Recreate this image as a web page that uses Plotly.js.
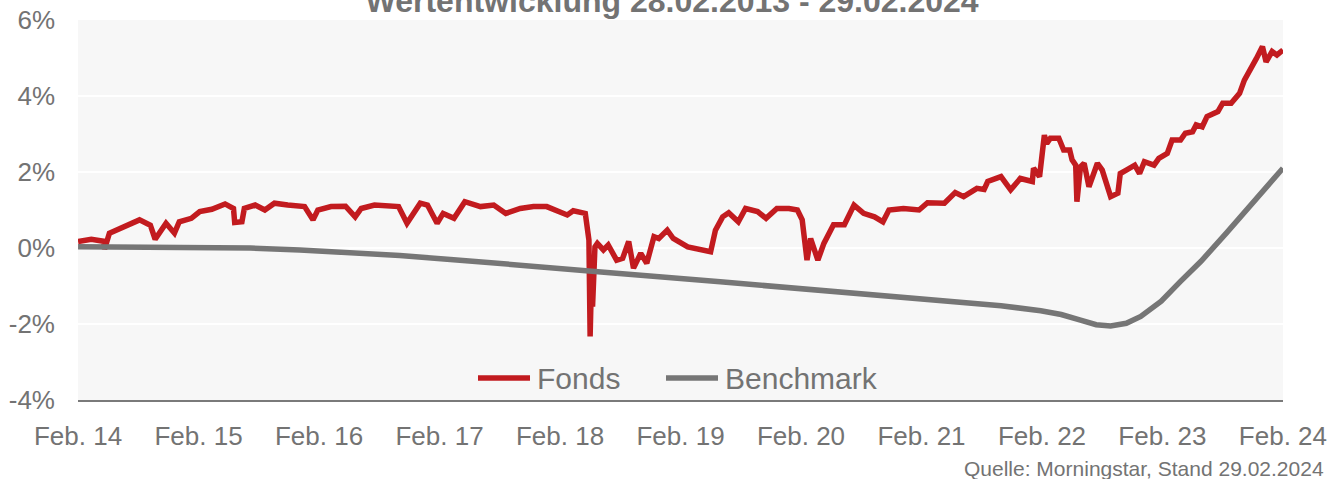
<!DOCTYPE html>
<html>
<head>
<meta charset="utf-8">
<script src="https://cdn.plot.ly/plotly-3.0.1.min.js"></script>
<style>
html,body{margin:0;padding:0;background:#ffffff;}
#chart{width:1327px;height:479px;}
</style>
</head>
<body>
<div id="chart"></div>
<script>
// x values: years since 28.02.2014
var tickYears = [0,1,2,3,4,5,6,7,8,9,10];
var tickLabels = ["Feb. 14","Feb. 15","Feb. 16","Feb. 17","Feb. 18","Feb. 19","Feb. 20","Feb. 21","Feb. 22","Feb. 23","Feb. 24"];
var yTickVals = [-4,-2,0,2,4,6];
var yTickLabels = ["-4%","-2%","0%","2%","4%","6%"];
var seriesNames = ["Fonds","Benchmark"];

var fondsT = [0.00,0.11,0.21,0.22,0.26,0.39,0.51,0.60,0.64,0.73,0.80,0.84,0.94,1.01,1.11,1.22,1.29,1.30,1.36,1.38,1.47,1.55,1.63,1.74,1.88,1.95,1.99,2.10,2.22,2.30,2.35,2.46,2.66,2.73,2.84,2.90,2.98,3.03,3.12,3.21,3.34,3.45,3.55,3.67,3.78,3.89,4.06,4.11,4.21,4.24,4.25,4.26,4.27,4.29,4.31,4.36,4.40,4.47,4.52,4.57,4.61,4.67,4.72,4.78,4.82,4.89,4.94,5.06,5.17,5.25,5.29,5.35,5.40,5.48,5.54,5.64,5.71,5.80,5.90,5.97,6.01,6.05,6.08,6.14,6.19,6.27,6.36,6.44,6.52,6.61,6.68,6.73,6.85,6.98,7.05,7.19,7.28,7.35,7.46,7.52,7.55,7.66,7.74,7.82,7.92,7.93,7.98,8.02,8.04,8.07,8.14,8.18,8.23,8.25,8.28,8.29,8.32,8.35,8.39,8.46,8.50,8.54,8.57,8.63,8.65,8.70,8.77,8.81,8.85,8.93,8.97,9.04,9.08,9.15,9.19,9.25,9.28,9.33,9.37,9.46,9.50,9.57,9.64,9.68,9.72,9.78,9.83,9.86,9.91,9.95,10.00];
var fondsV = [0.17,0.23,0.18,-0.03,0.39,0.56,0.74,0.60,0.23,0.65,0.39,0.69,0.78,0.96,1.02,1.16,1.04,0.67,0.69,1.04,1.13,1.00,1.18,1.13,1.09,0.74,1.00,1.09,1.10,0.82,1.04,1.13,1.09,0.65,1.18,1.13,0.65,0.91,0.78,1.22,1.09,1.13,0.91,1.04,1.09,1.09,0.87,0.98,0.91,0.21,-2.33,-1.00,-1.54,0.03,0.12,-0.05,0.08,-0.32,-0.27,0.17,-0.53,-0.14,-0.40,0.30,0.25,0.47,0.25,0.03,-0.05,-0.10,0.47,0.82,0.93,0.69,1.04,0.96,0.78,1.04,1.04,1.00,0.74,-0.32,0.25,-0.32,0.12,0.61,0.61,1.13,0.91,0.82,0.69,1.00,1.04,1.00,1.19,1.18,1.46,1.35,1.57,1.54,1.75,1.88,1.53,1.83,1.75,2.10,1.88,2.97,2.75,2.89,2.89,2.58,2.58,2.32,2.18,1.22,2.14,2.23,1.61,2.23,2.05,1.61,1.35,1.44,1.96,2.05,2.18,1.96,2.27,2.18,2.36,2.49,2.84,2.84,3.02,3.06,3.24,3.19,3.46,3.59,3.81,3.81,4.07,4.42,4.68,4.99,5.30,4.90,5.17,5.08,5.21];

var benchT = [0,0.60,1.01,1.43,1.84,2.26,2.67,3.09,3.50,3.99,4.34,5.33,6.00,6.41,6.83,7.66,7.99,8.16,8.32,8.45,8.57,8.70,8.82,8.99,9.15,9.32,9.53,9.72,10.00];
var benchV = [0.03,0.03,0.02,0.00,-0.05,-0.12,-0.20,-0.30,-0.40,-0.55,-0.63,-0.89,-1.08,-1.19,-1.30,-1.52,-1.65,-1.75,-1.90,-2.02,-2.05,-1.98,-1.80,-1.40,-0.88,-0.35,0.39,1.10,2.10];

var textColor = "#737373";
var fondsColor = "#c21b1f";
var benchColor = "#767676";
var fontFam = "'Liberation Sans', Arial, sans-serif";

var traces = [
  {x: fondsT, y: fondsV, type: "scatter", mode: "lines", name: seriesNames[0],
   line: {color: fondsColor, width: 5.5}},
  {x: benchT, y: benchV, type: "scatter", mode: "lines", name: seriesNames[1],
   line: {color: benchColor, width: 5.5}}
];

// legend drawn in paper coordinates (plot area 78..1283 x 20..400 px)
function px(x){ return (x - 78) / 1205; }
function py(y){ return (400 - y) / 380; }

var layout = {
  width: 1327, height: 479,
  margin: {l: 78, r: 44, t: 20, b: 79, pad: 0},
  paper_bgcolor: "#ffffff",
  plot_bgcolor: "#f7f7f7",
  font: {family: fontFam, color: textColor, size: 26},
  title: {text: "<b>Wertentwicklung 28.02.2013 - 29.02.2024</b>",
          font: {family: fontFam, size: 32, color: textColor},
          x: 0.5065, xref: "container", xanchor: "center",
          y: 0.998, yref: "container", yanchor: "middle", pad: {t: 0}},
  showlegend: false,
  xaxis: {range: [-0.0005, 10.0005], tickmode: "array", tickvals: tickYears, ticktext: tickLabels,
          showgrid: false, zeroline: false, showline: true, linecolor: "#7a7a7a", linewidth: 2,
          ticks: "", ticklabelstandoff: 12, ticklabeloverflow: "allow",
          tickfont: {size: 26, color: textColor}, fixedrange: true},
  yaxis: {range: [-4, 6], tickmode: "array", tickvals: yTickVals, ticktext: yTickLabels,
          showgrid: true, gridcolor: "#ffffff", gridwidth: 2, zeroline: false, showline: false,
          ticks: "", ticklabelstandoff: 22, tickfont: {size: 26, color: textColor}, fixedrange: true},
  shapes: [
    {type: "line", xref: "paper", yref: "paper", x0: px(478), x1: px(530), y0: py(378), y1: py(378),
     line: {color: fondsColor, width: 5.5}},
    {type: "line", xref: "paper", yref: "paper", x0: px(666), x1: px(718), y0: py(378), y1: py(378),
     line: {color: benchColor, width: 5.5}}
  ],
  annotations: [
    {text: seriesNames[0], xref: "paper", yref: "paper", x: px(535), y: py(378),
     xanchor: "left", yanchor: "middle", showarrow: false, font: {size: 30, color: textColor, family: fontFam}},
    {text: seriesNames[1], xref: "paper", yref: "paper", x: px(723), y: py(378),
     xanchor: "left", yanchor: "middle", showarrow: false, font: {size: 30, color: textColor, family: fontFam}},
    {text: "Quelle: Morningstar, Stand 29.02.2024", xref: "paper", yref: "paper",
     x: px(1326), y: py(468), xanchor: "right", yanchor: "middle", showarrow: false,
     font: {size: 21, color: textColor, family: fontFam}}
  ]
};

Plotly.newPlot("chart", traces, layout, {displayModeBar: false, staticPlot: true});
</script>
</body>
</html>
